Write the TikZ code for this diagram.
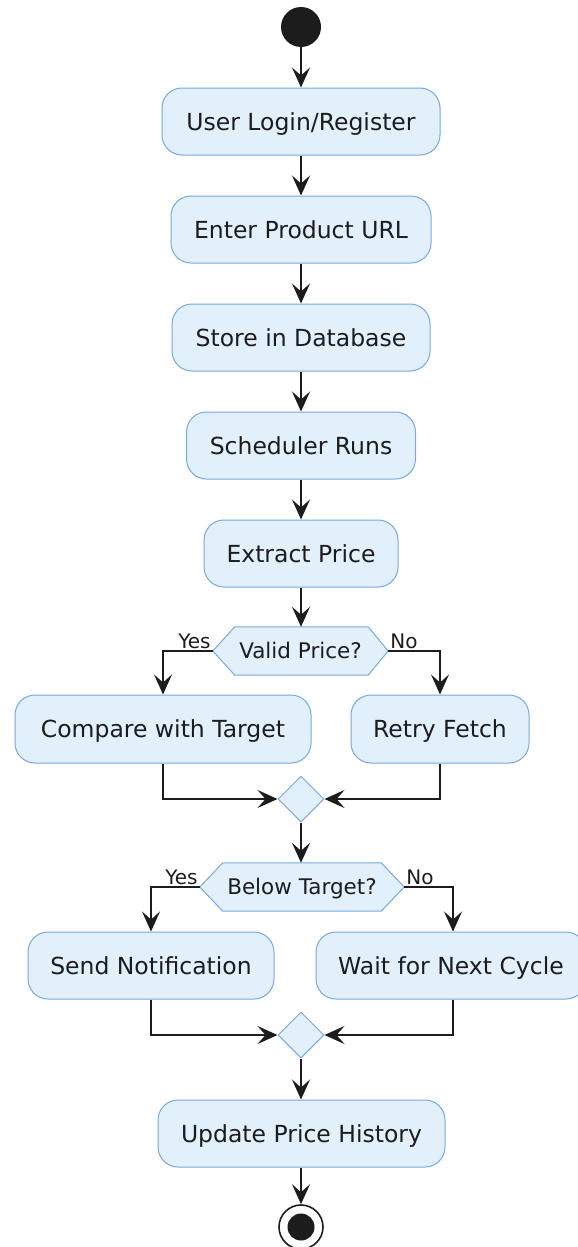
\documentclass[tikz,border=0pt]{standalone}
\usepackage{fontspec}
\setmainfont{DejaVu Sans}
\usetikzlibrary{shapes.geometric,arrows.meta,calc,backgrounds}
\definecolor{actfill}{RGB}{226,240,252}
\definecolor{actline}{RGB}{120,168,222}
\definecolor{ink}{RGB}{28,28,28}
\begin{document}
\begin{tikzpicture}[x=1pt,y=-1pt,
  act/.style={draw=actline, fill=actfill, line width=1pt, rounded corners=20pt,
    minimum height=67pt, inner sep=0pt, font=\fontsize{23.5}{28}\selectfont, text=ink,
    text height=17.2pt, text depth=0pt},
  merge/.style={diamond, draw=actline, fill=actfill, line width=1pt,
    minimum width=46pt, minimum height=46pt, inner sep=0pt, aspect=1},
  decision/.style={minimum height=48pt, inner sep=0pt,
    font=\fontsize{21.5}{26}\selectfont, text=ink, text height=15.8pt, text depth=0pt},
  hexa/.style={draw=actline, fill=actfill, line width=1pt},
  arr/.style={draw=ink, line width=1.3pt, -{Stealth[length=20pt,width=18pt,inset=8pt]}},
  lbl/.style={font=\fontsize{20}{24}\selectfont, text=ink, inner sep=1.5pt},
]
\useasboundingbox (0,0) rectangle (578,1247);

% start / end
\node[circle, fill=ink, minimum size=40pt, inner sep=0pt] (start) at (301,27) {};
\node[circle, draw=ink, line width=1.6pt, fill=white, minimum size=44pt, inner sep=0pt] (end) at (301,1227) {};
\node[circle, fill=ink, minimum size=27pt, inner sep=0pt] (endcore) at (end.center) {};

% main activities
\node[act, minimum width=278pt] (login)   at (301,121.5)  {User Login/Register};
\node[act, minimum width=260pt] (url)     at (301,229.5)  {Enter Product URL};
\node[act, minimum width=258pt] (store)   at (301,337.5)  {Store in Database};
\node[act, minimum width=229pt] (sched)   at (301,445.5)  {Scheduler Runs};
\node[act, minimum width=194pt] (extract) at (301,553.5)  {Extract Price};

% first decision
\node[decision, minimum width=175pt] (valid) at (300.5,651) {Valid Price?};
\begin{scope}[on background layer]
  \draw[hexa] (valid.west) -- ($(valid.north west)+(22,0)$) -- ($(valid.north east)+(-20,0)$)
    -- (valid.east) -- ($(valid.south east)+(-20,0)$) -- ($(valid.south west)+(22,0)$) -- cycle;
\end{scope}
\node[act, minimum width=296pt, minimum height=68pt] (compare) at (163,729) {Compare with Target};
\node[act, minimum width=178pt, minimum height=68pt] (retry)   at (440,729) {Retry Fetch};
\node[merge] (merge1) at (301,799) {};

% second decision
\node[decision, minimum width=204pt] (below) at (302,887) {Below Target?};
\begin{scope}[on background layer]
  \draw[hexa] (below.west) -- ($(below.north west)+(23,0)$) -- ($(below.north east)+(-23,0)$)
    -- (below.east) -- ($(below.south east)+(-23,0)$) -- ($(below.south west)+(23,0)$) -- cycle;
\end{scope}
\node[act, minimum width=246pt] (notify) at (151,965.5) {Send Notification};
\node[act, minimum width=270pt] (wait)   at (451,965.5) {Wait for Next Cycle};
\node[merge] (merge2) at (301,1035) {};

\node[act, minimum width=287pt] (update) at (301.5,1133.5) {Update Price History};

% connectors
\draw[arr] (start) -- (login);
\draw[arr] (login) -- (url);
\draw[arr] (url) -- (store);
\draw[arr] (store) -- (sched);
\draw[arr] (sched) -- (extract);
\draw[arr] (extract.south) -- (extract.south |- valid.north);

\draw[arr] (valid.west) node[lbl, anchor=south east] {Yes} -| (compare.north);
\draw[arr] (valid.east) node[lbl, anchor=south west] {No} -| (retry.north);
\draw[arr] (compare.south) |- (merge1.west);
\draw[arr] (retry.south) |- (merge1.east);
\draw[arr] (merge1.south) -- (merge1.south |- below.north);

\draw[arr] (below.west) node[lbl, anchor=south east] {Yes} -| (notify.north);
\draw[arr] (below.east) node[lbl, anchor=south west] {No} -| ($(wait.north)+(2,0)$);
\draw[arr] (notify.south) |- (merge2.west);
\draw[arr] ($(wait.south)+(2,0)$) |- (merge2.east);
\draw[arr] (merge2.south) -- (update.north -| merge2.south);
\draw[arr] (update.south -| end.north) -- (end.north);
\end{tikzpicture}
\end{document}
